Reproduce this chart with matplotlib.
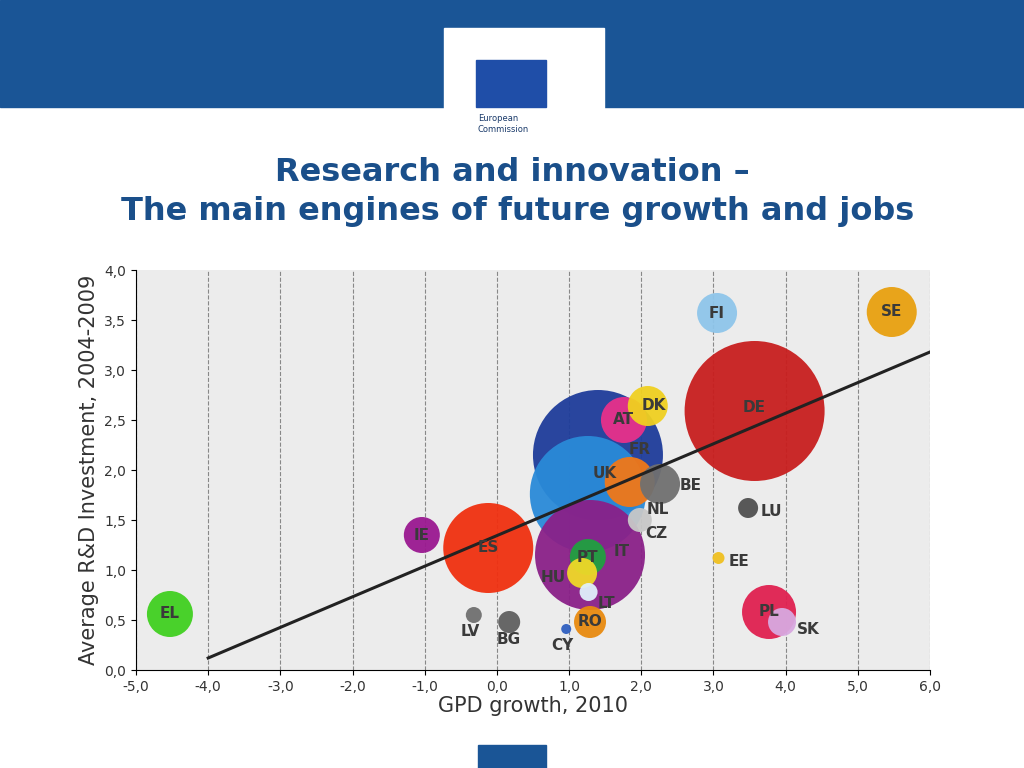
import numpy as np
import matplotlib.pyplot as plt
from matplotlib.patches import Rectangle

countries = ["FI", "SE", "DE", "DK", "AT", "FR", "BE", "UK", "NL", "CZ", "LU",
             "IE", "ES", "IT", "PT", "HU", "LT", "EE", "EL", "LV", "BG", "CY",
             "RO", "PL", "SK"]
gdp_growth = [3.05, 5.47, 3.57, 2.09, 1.76, 1.40, 2.26, 1.26, 1.84, 1.98, 3.48,
              -1.04, -0.12, 1.29, 1.26, 1.18, 1.27, 3.07, -4.53, -0.32, 0.17, 0.96,
              1.29, 3.77, 3.95]
rd_invest = [3.57, 3.58, 2.59, 2.64, 2.50, 2.15, 1.86, 1.76, 1.88, 1.50, 1.62,
             1.35, 1.22, 1.15, 1.13, 0.97, 0.78, 1.12, 0.56, 0.55, 0.48, 0.41,
             0.48, 0.58, 0.48]
bubble_r = [20, 25, 70, 20, 23, 65, 20, 58, 25, 12, 10,
            18, 45, 55, 18, 15, 9, 6, 23, 8, 11, 5, 16, 27, 14]
colors = ["#8ec5ea", "#e8a010", "#c81e1e", "#f0d020", "#e8308a", "#1e3c9a",
          "#707070", "#2a8ad8", "#f07818", "#c8c8c8", "#505050",
          "#9a1890", "#f03010", "#8a2088", "#20a040", "#f0d828", "#e0f0fa",
          "#f0c020", "#40d020", "#707070", "#606060", "#3060c0",
          "#e88a10", "#e02050", "#d8a8e0"]
# label offsets from bubble centre in pixels (right, down)
label_dx = {"FR": 42, "UK": 17, "IT": 32, "HU": -29, "LT": 18, "NL": 28, "CZ": 16,
            "BE": 31, "LU": 23, "EE": 20, "LV": -4, "CY": -4, "SK": 26, "DK": 6}
label_dy = {"FR": -5, "UK": -20, "IT": -4, "HU": 4, "LT": 12, "NL": 28, "CZ": 13,
            "BE": 2, "LU": 4, "EE": 4, "LV": 17, "BG": 18, "CY": 16, "SK": 7,
            "DE": -3}
trend_x = [-4.0, 6.0]
trend_y = [0.12, 3.18]

fig = plt.figure(figsize=(10.24, 7.68), dpi=100)
fig.patches.append(Rectangle((0, 1 - 107 / 768), 1, 107 / 768, transform=fig.transFigure,
                             color="#1a5596", zorder=0))
fig.patches.append(Rectangle((444 / 1024, 1 - 140 / 768), 160 / 1024, 112 / 768,
                             transform=fig.transFigure, color="white", zorder=1))
fig.patches.append(Rectangle((476 / 1024, 1 - 107 / 768), 70 / 1024, 47 / 768,
                             transform=fig.transFigure, color="#1f4ea8", zorder=2))
fig.text(478 / 1024, 1 - 124 / 768, "European\nCommission", fontsize=6, color="#1a3a6a",
         va="center")
fig.patches.append(Rectangle((478 / 1024, 0), 68 / 1024, 23 / 768, transform=fig.transFigure,
                             color="#1a5596", zorder=0))
fig.text(0.5, 1 - 192 / 768, "Research and innovation \u2013\n The main engines of future growth and jobs",
         ha="center", va="center", fontsize=23, fontweight="bold", color="#1a4f8a",
         linespacing=1.3)

ax = fig.add_axes([136 / 1024, 1 - 670 / 768, 794 / 1024, 400 / 768])
ax.set_facecolor("#ececec")
ax.set_xlim(-5, 6)
ax.set_ylim(0, 4)
xt = np.arange(-5, 7)
yt = np.arange(0, 4.5, 0.5)
ax.set_xticks(xt)
ax.set_yticks(yt)
ax.set_xticklabels([f"{v:.1f}".replace(".", ",") for v in xt], fontsize=10, color="#333333")
ax.set_yticklabels([f"{v:.1f}".replace(".", ",") for v in yt], fontsize=10, color="#333333")
ax.grid(axis="x", linestyle="--", color="#888888", linewidth=0.8)
for s in ["top", "right"]:
    ax.spines[s].set_visible(False)
ax.set_xlabel("GPD growth, 2010", fontsize=15, color="#333333", labelpad=2)
ax.set_ylabel("Average R&D Investment, 2004-2009", fontsize=15, color="#333333")

sizes = [(1.44 * r) ** 2 for r in bubble_r]
order = np.argsort(bubble_r)[::-1]
ax.scatter(np.array(gdp_growth)[order], np.array(rd_invest)[order], s=np.array(sizes)[order],
           c=np.array(colors)[order], edgecolors="none", alpha=0.95, zorder=2)
ax.plot(trend_x, trend_y, color="#222222", linewidth=2.2, zorder=3)

for c, x, y in zip(countries, gdp_growth, rd_invest):
    dx = label_dx.get(c, 0)
    dy = label_dy.get(c, 0)
    ax.annotate(c, (x, y), xytext=(dx * 0.72, -dy * 0.72),
                textcoords="offset points", ha="center", va="center", fontsize=11,
                fontweight="bold", color="#3a3a3a", zorder=4)

fig.savefig("out.png", dpi=100)
